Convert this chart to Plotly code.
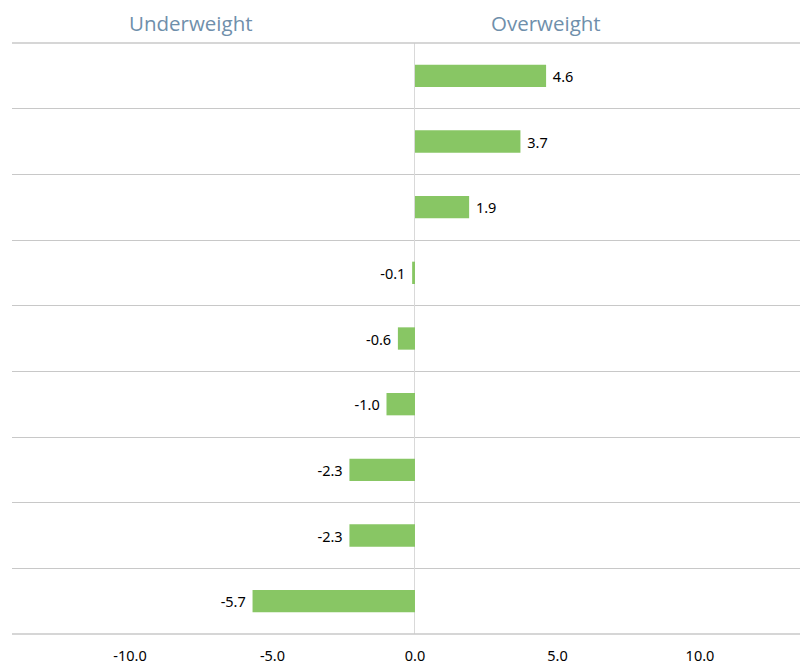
import plotly.graph_objects as go

categories = ["A", "B", "C", "D", "E", "F", "G", "H", "I"]
values = [4.6, 3.7, 1.9, -0.1, -0.6, -1.0, -2.3, -2.3, -5.7]
labels = ["4.6", "3.7", "1.9", "-0.1", "-0.6", "-1.0", "-2.3", "-2.3", "-5.7"]
xticks = [-10, -5, 0, 5, 10]
xtick_text = ["-10.0", "-5.0", "0.0", "5.0", "10.0"]

pad = "\u00a0"
templates = [(pad + "%{text}") if v >= 0 else ("%{text}" + pad) for v in values]

fig = go.Figure(go.Bar(
    x=values, y=categories, orientation="h",
    marker=dict(color="#88c664", line=dict(width=0)),
    width=0.34,
    text=labels, texttemplate=templates, textposition="outside", cliponaxis=False,
    textfont=dict(family="Noto Sans", size=14.5, color="#000000"),
))

fig.update_layout(
    width=800, height=655,
    margin=dict(l=4, r=0, t=35, b=29),
    paper_bgcolor="white", plot_bgcolor="white",
    showlegend=False,
    xaxis=dict(range=[-14.14, 13.79], tickvals=xticks, ticktext=xtick_text,
               showgrid=False, zeroline=True, zerolinecolor="#d9d9d9", zerolinewidth=1,
               ticks="outside", ticklen=9, tickcolor="rgba(0,0,0,0)",
               automargin=False, showline=False,
               tickfont=dict(family="Noto Sans", size=14.5, color="#000000")),
    yaxis=dict(type="category", autorange="reversed", tickson="boundaries",
               showticklabels=False, showgrid=True, gridcolor="#c8c8c8", gridwidth=1.3,
               showline=False, ticks="", automargin=False),
    shapes=[
        dict(type="line", xref="paper", yref="paper", x0=0, x1=1, y0=1, y1=1,
             line=dict(color="#c8c8c8", width=1.5)),
        dict(type="line", xref="paper", yref="paper", x0=0, x1=1, y0=0, y1=0,
             line=dict(color="#c8c8c8", width=1.5)),
    ],
    annotations=[
        dict(text="Underweight", x=-7.85, y=1, xref="x", yref="paper", yanchor="bottom",
             yshift=4, showarrow=False,
             font=dict(family="Open Sans", size=20.5, color="#6f8fab")),
        dict(text="Overweight", x=4.6, y=1, xref="x", yref="paper", yanchor="bottom",
             yshift=4, showarrow=False,
             font=dict(family="Open Sans", size=20.5, color="#6f8fab")),
    ],
)

fig.write_html("out.html")
